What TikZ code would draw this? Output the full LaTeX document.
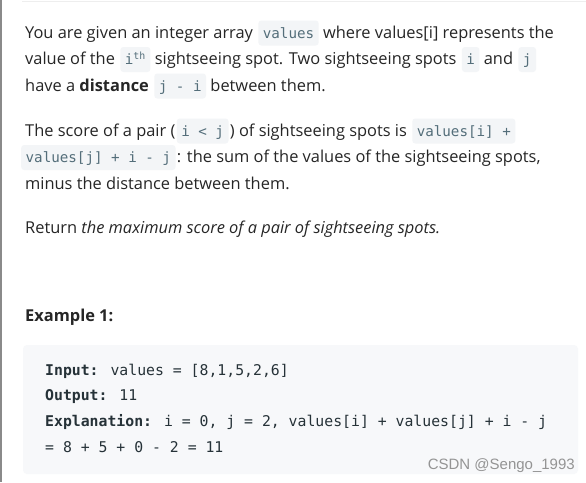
\documentclass[tikz,border=0pt]{standalone}
\usepackage{fontspec}
\setmainfont{Open Sans}
\newfontfamily\codefont{DejaVu Sans Mono}
\newfontfamily\markfont{Liberation Sans}
\usetikzlibrary{positioning}

\definecolor{bodytext}{HTML}{262626}
\definecolor{chipbg}{HTML}{F3F5F7}
\definecolor{chiptext}{HTML}{546E7A}
\definecolor{codebg}{HTML}{F7F8FA}
\definecolor{codetext}{HTML}{263238}
\definecolor{sideline}{HTML}{8A8A8A}
\definecolor{topline}{HTML}{EEEEEE}

\tikzset{
  txt/.style={anchor=base west, inner sep=0pt, text=bodytext,
    font=\fontsize{16.4}{20}\selectfont},
  chip/.style={anchor=base west, inner xsep=4.5pt, inner ysep=4.5pt,
    text height=13pt, text depth=3pt, fill=chipbg, rounded corners=3pt,
    text=chiptext, font=\codefont\fontsize{14.2}{16}\selectfont},
  codeln/.style={anchor=base west, inner sep=0pt, text=codetext,
    font=\codefont\fontsize{14.8}{17}\selectfont},
}

\begin{document}
\begin{tikzpicture}[x=1pt, y=-1pt]
  \useasboundingbox (0,0) rectangle (586,482);
  \fill[white] (0,0) rectangle (586,482);

  % Rahmenlinien
  \fill[sideline] (0,0) rectangle (2,482);
  \draw[topline, line width=1pt] (22,1) -- (586,1);

  % Absatz 1
  \node[txt] (a1) at (25,38) {You are given an integer array};
  \node[chip] (a2) at ([xshift=5pt]a1.base east) {values};
  \node[txt] (a3) at ([xshift=4pt]a2.base east) {where values[i] represents the};

  \node[txt] (b1) at (25,64.5) {value of the};
  \node[chip] (b2) at ([xshift=5pt]b1.base east) {i\textsuperscript{th}};
  \node[txt] (b3) at ([xshift=4pt]b2.base east) {sightseeing spot. Two sightseeing spots};
  \node[chip] (b4) at ([xshift=5pt]b3.base east) {i};
  \node[txt] (b5) at ([xshift=4pt]b4.base east) {and};
  \node[chip] (b6) at ([xshift=5pt]b5.base east) {j};

  \node[txt] (c1) at (25,91) {have a \textbf{distance}};
  \node[chip] (c2) at ([xshift=5pt]c1.base east) {j - i};
  \node[txt] (c3) at ([xshift=4pt]c2.base east) {between them.};

  % Absatz 2
  \node[txt] (d1) at (25,136) {The score of a pair (};
  \node[chip] (d2) at ([xshift=1pt]d1.base east) {i < j};
  \node[txt] (d3) at ([xshift=1pt]d2.base east) {) of sightseeing spots is};
  \node[chip] (d4) at ([xshift=5pt]d3.base east) {values[i] +};

  \node[chip] (e1) at (21,162.5) {values[j] + i - j};
  \node[txt] (e2) at ([xshift=1pt]e1.base east) {: the sum of the values of the sightseeing spots,};

  \node[txt] (f1) at (25,189) {minus the distance between them.};

  % Absatz 3
  \node[txt] (g1) at (25,233) {Return \textit{the maximum score of a pair of sightseeing spots.}};

  % Beispiel
  \node[txt, font=\bfseries\fontsize{16.4}{20}\selectfont] (h1) at (25,321) {Example 1:};

  \fill[codebg, rounded corners=4pt] (23,345) rectangle (578,474);
  \node[codeln] (k1) at (45,375) {\textbf{Input:} values = [8,1,5,2,6]};
  \node[codeln] (k2) at (45,400.5) {\textbf{Output:} 11};
  \node[codeln] (k3) at (45,426.5) {\textbf{Explanation:} i = 0, j = 2, values[i] + values[j] + i - j};
  \node[codeln] (k4) at (45,452) {= 8 + 5 + 0 - 2 = 11};

  \node[anchor=base east, inner sep=0pt, text=black!42,
    font=\markfont\fontsize{15}{18}\selectfont] (wm) at (575,469) {CSDN @Sengo\_1993};
\end{tikzpicture}
\end{document}
